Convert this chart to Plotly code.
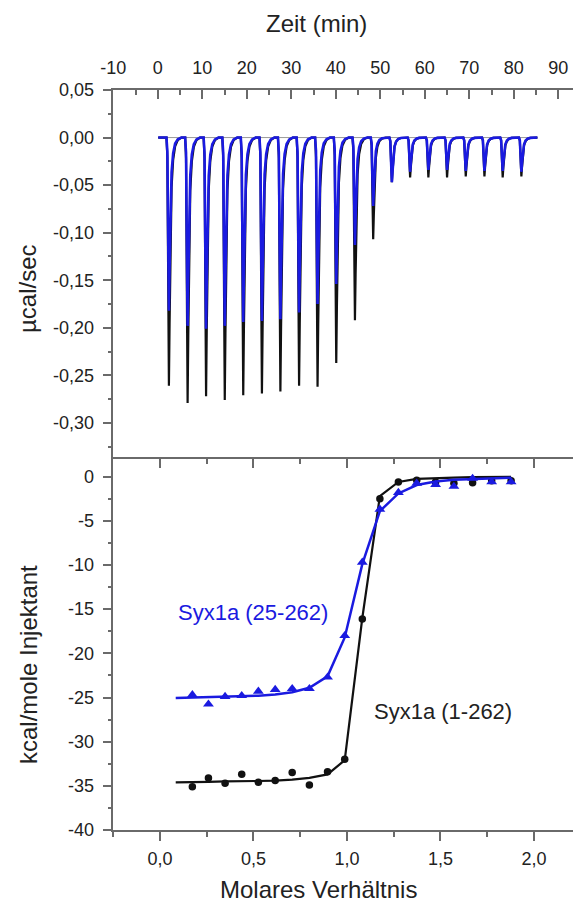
import plotly.graph_objects as go

# ---------------- data: top panel (raw ITC thermogram) ----------------
peak_time_min = [2.5, 6.7, 10.85, 15.05, 19.2, 23.4, 27.55, 31.75, 35.9, 40.1,
                 44.3, 48.4, 52.6, 56.7, 60.8, 65.0, 69.2, 73.4, 77.5, 81.7]
black_peak_ucal = [-0.261, -0.279, -0.272, -0.276, -0.271, -0.269, -0.267, -0.261, -0.262, -0.237,
                   -0.192, -0.107, -0.047, -0.042, -0.042, -0.042, -0.041, -0.041, -0.042, -0.041]
blue_peak_ucal = [-0.182, -0.198, -0.201, -0.198, -0.194, -0.193, -0.191, -0.184, -0.175, -0.154,
                  -0.113, -0.072, -0.047, -0.036, -0.034, -0.034, -0.035, -0.035, -0.035, -0.036]
# shape of one injection peak (time offset vs. fraction of depth)
peak_shape_dt = [-0.55, -0.35, -0.18, 0.0, 0.15, 0.35, 0.6, 0.95, 1.4, 2.0, 2.8]
peak_shape_frac = [0.0, 0.08, 0.55, 1.0, 0.75, 0.42, 0.2, 0.09, 0.035, 0.01, 0.0]
trace_start_min = 0.1
trace_end_min = 85.3

# ---------------- data: bottom panel (integrated heats) ----------------
molar_ratio = [0.173, 0.259, 0.348, 0.437, 0.526, 0.616, 0.707, 0.799, 0.896, 0.988,
               1.082, 1.176, 1.275, 1.373, 1.474, 1.572, 1.672, 1.774, 1.878]
black_kcal = [-35.1, -34.1, -34.7, -33.7, -34.6, -34.4, -33.5, -34.9, -33.4, -32.0,
              -16.1, -2.5, -0.6, -0.4, -0.6, -0.75, -0.7, -0.45, -0.45]
blue_kcal = [-24.7, -25.75, -24.9, -24.8, -24.3, -24.1, -24.0, -24.0, -22.7, -18.0,
             -9.7, -3.7, -1.8, -0.75, -0.9, -1.1, -0.2, -0.6, -0.6]
fit_ratio = [0.084, 0.173, 0.259, 0.348, 0.437, 0.526, 0.616, 0.707, 0.799, 0.896, 0.988,
             1.082, 1.176, 1.275, 1.373, 1.474, 1.572, 1.672, 1.774, 1.878]
black_fit = [-34.6, -34.6, -34.55, -34.5, -34.5, -34.45, -34.4, -34.3, -34.1, -33.7, -32.1,
             -16.0, -2.2, -0.6, -0.25, -0.15, -0.1, -0.06, -0.04, -0.03]
blue_fit = [-25.05, -25.0, -25.0, -24.95, -24.9, -24.8, -24.65, -24.4, -23.9, -22.6, -18.2,
            -9.9, -3.9, -1.9, -0.95, -0.55, -0.35, -0.25, -0.18, -0.12]

# ---------------- tick labels ----------------
time_ticks = [-10, 0, 10, 20, 30, 40, 50, 60, 70, 80, 90]
time_ticktext = ["-10", "0", "10", "20", "30", "40", "50", "60", "70", "80", "90"]
power_ticks = [0.05, 0.0, -0.05, -0.10, -0.15, -0.20, -0.25, -0.30]
power_ticktext = ["0,05", "0,00", "-0,05", "-0,10", "-0,15", "-0,20", "-0,25", "-0,30"]
heat_ticks = [0, -5, -10, -15, -20, -25, -30, -35, -40]
heat_ticktext = ["0", "-5", "-10", "-15", "-20", "-25", "-30", "-35", "-40"]
ratio_ticks = [0.0, 0.5, 1.0, 1.5, 2.0]
ratio_ticktext = ["0,0", "0,5", "1,0", "1,5", "2,0"]

BLUE = "#1a1ae0"
BLACK = "#111111"
AXIS = "#6a6a6a"
TXT = "#222222"
FONT = "Liberation Sans, Arial, sans-serif"


def build_thermogram(depths):
    xs = [trace_start_min]
    ys = [0.0]
    for t, d in zip(peak_time_min, depths):
        for dt, f in zip(peak_shape_dt, peak_shape_frac):
            xs.append(t + dt)
            ys.append(d * f)
    xs.append(trace_end_min)
    ys.append(0.0)
    return xs, ys


fig = go.Figure()

# baseline
fig.add_trace(go.Scatter(x=[trace_start_min, trace_end_min], y=[0, 0], mode="lines",
                         line=dict(color="#9a9a9a", width=1), xaxis="x", yaxis="y",
                         showlegend=False, hoverinfo="skip"))
bx, by = build_thermogram(black_peak_ucal)
fig.add_trace(go.Scatter(x=bx, y=by, mode="lines", line=dict(color=BLACK, width=2.2),
                         xaxis="x", yaxis="y", showlegend=False))
ux, uy = build_thermogram(blue_peak_ucal)
fig.add_trace(go.Scatter(x=ux, y=uy, mode="lines", line=dict(color=BLUE, width=2.6),
                         xaxis="x", yaxis="y", showlegend=False))

# bottom panel
fig.add_trace(go.Scatter(x=fit_ratio, y=black_fit, mode="lines", line=dict(color=BLACK, width=2.2),
                         xaxis="x2", yaxis="y2", showlegend=False))
fig.add_trace(go.Scatter(x=molar_ratio, y=black_kcal, mode="markers",
                         marker=dict(color=BLACK, size=7.5, symbol="circle"),
                         xaxis="x2", yaxis="y2", showlegend=False))
fig.add_trace(go.Scatter(x=fit_ratio, y=blue_fit, mode="lines", line=dict(color=BLUE, width=2.5),
                         xaxis="x2", yaxis="y2", showlegend=False))
fig.add_trace(go.Scatter(x=molar_ratio, y=blue_kcal, mode="markers",
                         marker=dict(color=BLUE, size=9.5, symbol="triangle-up"),
                         xaxis="x2", yaxis="y2", showlegend=False))
# a dummy trace so xaxis3 gets drawn
fig.add_trace(go.Scatter(x=[None], y=[None], xaxis="x3", yaxis="y2", showlegend=False))

xdom = [0.1977, 1.0]
top_dom = [0.4956, 0.9011]
bot_dom = [0.0879, 0.4956]
tickfont = dict(family=FONT, size=18, color=TXT)

fig.update_layout(
    template="none",
    width=573, height=910,
    margin=dict(l=0, r=0, t=0, b=0, autoexpand=False),
    paper_bgcolor="white", plot_bgcolor="white",
    font=dict(family=FONT, color=TXT),
    showlegend=False,
    xaxis=dict(domain=xdom, anchor="y", side="top", range=[-10, 93.3], automargin=False,
               tickmode="array", tickvals=time_ticks, ticktext=time_ticktext,
               ticks="inside", ticklen=9, tickwidth=1.5, tickcolor=AXIS,
               minor=dict(tickmode="linear", tick0=-5, dtick=10, ticks="inside", ticklen=5,
                          tickwidth=1.5, tickcolor=AXIS, showgrid=False),
               showline=True, linecolor=AXIS, linewidth=1.5, mirror=False,
               showgrid=False, zeroline=False, tickfont=tickfont, ticklabelstandoff=7),
    yaxis=dict(domain=top_dom, anchor="x", range=[-0.338, 0.05], automargin=False,
               tickmode="array", tickvals=power_ticks, ticktext=power_ticktext,
               ticks="outside", ticklen=9, tickwidth=1.5, tickcolor=AXIS,
               minor=dict(tickmode="linear", tick0=0.025, dtick=0.05, ticks="outside", ticklen=4,
                          tickwidth=1.5, tickcolor=AXIS, showgrid=False),
               showline=True, linecolor=AXIS, linewidth=1.5,
               showgrid=False, zeroline=False, tickfont=tickfont, ticklabelstandoff=5),
    xaxis2=dict(domain=xdom, anchor="y2", range=[-0.25, 2.209], automargin=False,
                tickmode="array", tickvals=ratio_ticks, ticktext=ratio_ticktext,
                ticks="outside", ticklen=9, tickwidth=1.5, tickcolor=AXIS,
                minor=dict(tickmode="linear", tick0=0.25, dtick=0.5, ticks="outside", ticklen=5,
                           tickwidth=1.5, tickcolor=AXIS, showgrid=False),
                showline=True, linecolor=AXIS, linewidth=1.5,
                showgrid=False, zeroline=False, tickfont=tickfont, ticklabelstandoff=3),
    xaxis3=dict(domain=xdom, anchor="y2", overlaying="x2", side="top", range=[-0.25, 2.209],
                automargin=False,
                tickmode="array", tickvals=ratio_ticks, showticklabels=False,
                ticks="inside", ticklen=9, tickwidth=1.5, tickcolor=AXIS,
                minor=dict(tickmode="linear", tick0=0.25, dtick=0.5, ticks="inside", ticklen=5,
                           tickwidth=1.5, tickcolor=AXIS, showgrid=False),
                showline=True, linecolor=AXIS, linewidth=1.5,
                showgrid=False, zeroline=False),
    yaxis2=dict(domain=bot_dom, anchor="x2", range=[-40, 2], automargin=False,
                tickmode="array", tickvals=heat_ticks, ticktext=heat_ticktext,
                ticks="outside", ticklen=9, tickwidth=1.5, tickcolor=AXIS,
                minor=dict(tickmode="linear", tick0=-2.5, dtick=5, ticks="outside", ticklen=4,
                           tickwidth=1.5, tickcolor=AXIS, showgrid=False),
                showline=True, linecolor=AXIS, linewidth=1.5,
                showgrid=False, zeroline=False, tickfont=tickfont, ticklabelstandoff=5),
)

title_font = dict(family=FONT, size=24, color=TXT)
fig.add_annotation(text="Zeit (min)", xref="paper", yref="paper", x=316 / 573, y=1 - 23 / 910,
                   showarrow=False, font=title_font, xanchor="center", yanchor="middle")
fig.add_annotation(text="Molares Verhältnis", xref="paper", yref="paper", x=318 / 573, y=1 - 889 / 910,
                   showarrow=False, font=title_font, xanchor="center", yanchor="middle")
fig.add_annotation(text="µcal/sec", xref="paper", yref="paper", x=27 / 573, y=1 - 289 / 910,
                   showarrow=False, font=title_font, textangle=-90, xanchor="center", yanchor="middle")
fig.add_annotation(text="kcal/mole Injektant", xref="paper", yref="paper", x=28 / 573, y=1 - 665 / 910,
                   showarrow=False, font=title_font, textangle=-90, xanchor="center", yanchor="middle")
fig.add_annotation(text="Syx1a (25-262)", xref="x2", yref="y2", x=0.495, y=-15.4,
                   showarrow=False, font=dict(family=FONT, size=22, color=BLUE),
                   xanchor="center", yanchor="middle")
fig.add_annotation(text="Syx1a (1-262)", xref="x2", yref="y2", x=1.513, y=-26.6,
                   showarrow=False, font=dict(family=FONT, size=22, color=TXT),
                   xanchor="center", yanchor="middle")

fig.write_html("out.html")
